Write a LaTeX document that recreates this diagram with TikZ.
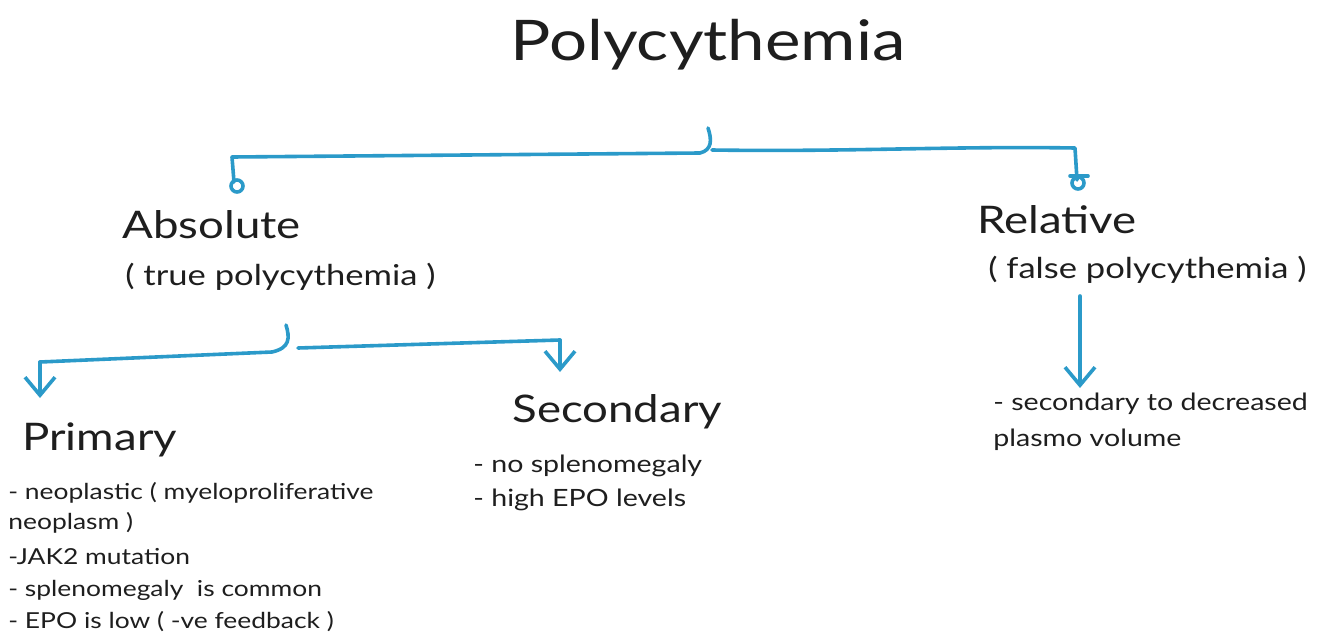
\documentclass[tikz,border=0pt]{standalone}
\usepackage{fontspec}
\setmainfont[FakeStretch=1.2]{Lato}
\usetikzlibrary{arrows.meta}
\definecolor{ink}{HTML}{1E1E1E}
\definecolor{pen}{HTML}{2B9AC9}
\tikzset{
  lbl/.style={anchor=west, inner sep=0pt, text=ink},
  head/.style={lbl, font=\fontsize{19}{22}\selectfont},
  sub/.style={lbl, font=\fontsize{14.4}{17}\selectfont},
  body/.style={lbl, font=\fontsize{11.9}{14}\selectfont},
  pbody/.style={lbl, font=\fontsize{11}{13}\selectfont},
  wire/.style={draw=pen, line width=1.8pt, line cap=round, line join=round},
  vtip/.style={wire, -{Straight Barb[length=9pt,width=15pt,line width=1.8pt]}},
}
\begin{document}
\begin{tikzpicture}[x=0.5pt,y=-0.5pt]
\useasboundingbox (0,0) rectangle (1317,637);
\node[inner sep=0pt, text=ink, font=\fontsize{28}{32}\selectfont] (title) at (708,45) {Polycythemia};

\node[head] (abs) at (122,225) {Absolute};
\node[sub] (abst) at (125,277) {( true polycythemia )};
\node[head] (rel) at (977,220) {Relative};
\node[sub] (relt) at (988,270) {( false polycythemia )};

\node[head] (pri) at (22,440) {Primary};
\node[head] (sec) at (512,412) {Secondary};

\node[body] (s1) at (473,466) {- no splenomegaly};
\node[body] (s2) at (473,500) {- high EPO levels};

\node[body] (r1) at (993,404) {- secondary to decreased};
\node[body] (r2) at (993,440) {plasmo volume};

\node[pbody] (p1) at (8,493) {- neoplastic ( myeloproliferative};
\node[pbody] (p2) at (8,523) {neoplasm )};
\node[pbody] (p3) at (8,557) {-JAK2 mutation};
\node[pbody] (p4) at (8,590) {- splenomegaly \ is common};
\node[pbody] (p5) at (8,622) {- EPO is low ( -ve feedback )};

% top branch
\coordinate (t0) at (708,128);
\coordinate (tl) at (232,157);
\coordinate (tr) at (1075,148);
\coordinate (tle) at (234,182);
\coordinate (tre) at (1077,180);
\draw[wire] (t0) .. controls (712,140) and (712,150) .. (700,153) -- (tl) -- (tle);
\draw[wire] (712,150) .. controls (850,152) and (950,146) .. (tr) -- (tre);
\draw[wire] (237,186) circle[radius=6];
\draw[wire] (1078,183) circle[radius=6];
\draw[wire] (1070,176) -- (1088,176);

% absolute branch
\coordinate (a0) at (286,325);
\coordinate (al) at (40,362);
\coordinate (ar) at (560,340);
\draw[wire] (a0) .. controls (290,338) and (290,348) .. (272,352) -- (al);
\draw[vtip] (al) -- (40,398);
\draw[wire] (298,348) -- (ar);
\draw[vtip] (ar) -- (560,372);

% relative branch
\draw[vtip] (1080,296) -- (1080,388);
\end{tikzpicture}
\end{document}
